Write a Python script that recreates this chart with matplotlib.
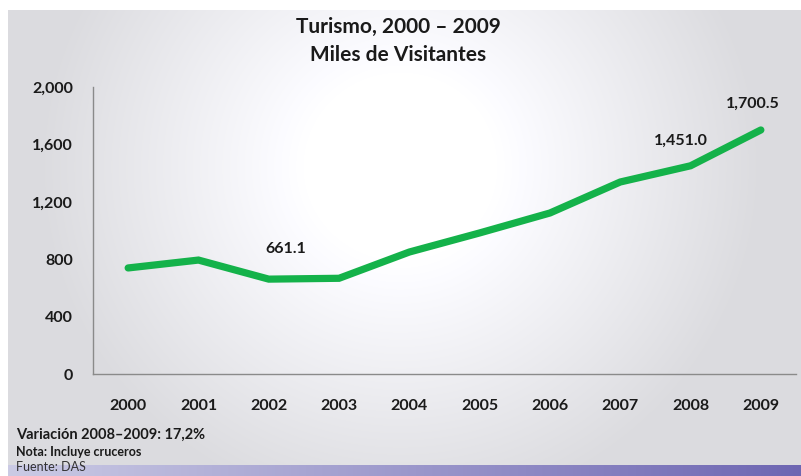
import matplotlib.pyplot as plt
import numpy as np
from matplotlib.ticker import FuncFormatter

# Visitantes (miles), incluye cruceros
years = ['2000', '2001', '2002', '2003', '2004', '2005', '2006', '2007', '2008', '2009']
visitors = [739, 794, 661.1, 667, 850, 983, 1122, 1338, 1451.0, 1700.5]
labeled = {2: '661.1', 8: '1,451.0', 9: '1,700.5'}
label_offsets = {2: (12, 17), 8: (-7, 13), 9: (-6, 14)}

plt.rcParams['font.family'] = ['Lato', 'DejaVu Sans']

W, H = 801, 476
fig = plt.figure(figsize=(W / 100, H / 100), dpi=100)

# slide background: soft grey edges fading to white, purple band at the bottom
bg = fig.add_axes([0, 0, 1, 1])
bg.set_axis_off()
xx, yy = np.meshgrid(np.linspace(0, 1, W), np.linspace(0, 1, H))
d = np.sqrt(((xx - 0.5) / 0.55) ** 2 + ((yy - 0.35) / 0.9) ** 2)
shade = np.clip(1 - 0.14 * np.clip(d - 0.22, 0, None) / 0.6, 0.86, 1)
img = np.ones((H, W, 3))
img[..., 0] = shade
img[..., 1] = shade
img[..., 2] = np.clip(shade + 0.015, 0, 1)
band = yy > 465 / H
t = xx[band]
img[band, 0] = 0.80 - 0.37 * t
img[band, 1] = 0.80 - 0.40 * t
img[band, 2] = 0.90 - 0.20 * t
img[:10, :] = 1.0
img[:, :8] = 1.0
bg.imshow(img, aspect='auto', extent=[0, 1, 0, 1], origin='upper')
bg.set_xlim(0, 1)
bg.set_ylim(0, 1)

ax = fig.add_axes([93 / W, 1 - 374 / H, (796 - 93) / W, (374 - 87) / H])
ax.patch.set_alpha(0)
x = np.arange(len(years))
ax.plot(x, visitors, color='#14b24a', lw=5.2, solid_joinstyle='miter', solid_capstyle='round')

for i, txt in labeled.items():
    ax.annotate(txt, (x[i], visitors[i]), xytext=label_offsets[i], textcoords='offset points',
                ha='center', va='bottom', fontsize=11.5, fontweight='bold', color='#1a1a1a')

ax.set_xlim(-0.5, len(years) - 0.5)
ax.set_ylim(0, 2000)
ax.set_yticks(np.arange(0, 2001, 400))
ax.yaxis.set_major_formatter(FuncFormatter(lambda v, p: f'{int(v):,}'))
ax.set_xticks(x)
ax.set_xticklabels(years)
ax.tick_params(length=0, labelsize=11.5, colors='#1a1a1a')
ax.tick_params(axis='x', pad=18)
ax.tick_params(axis='y', pad=14.5)
for lbl in ax.get_xticklabels() + ax.get_yticklabels():
    lbl.set_fontweight('bold')
for s in ['top', 'right']:
    ax.spines[s].set_visible(False)
for s in ['left', 'bottom']:
    ax.spines[s].set_color('#8a8a8a')
    ax.spines[s].set_linewidth(1)

fig.text(398 / W, 1 - 27 / H, 'Turismo, 2000 – 2009', ha='center', va='center',
         fontsize=15, fontweight='bold', color='#1a1a1a')
fig.text(398 / W, 1 - 55 / H, 'Miles de Visitantes', ha='center', va='center',
         fontsize=15, fontweight='bold', color='#1a1a1a')

fig.text(16 / W, 1 - 435 / H, 'Variación 2008–2009: 17,2%', ha='left', va='center',
         fontsize=10.5, fontweight='bold', color='#1a1a1a')
fig.text(16 / W, 1 - 452 / H, 'Nota: Incluye cruceros', ha='left', va='center',
         fontsize=9, fontweight='bold', color='#1a1a1a')
fig.text(16 / W, 1 - 467 / H, 'Fuente: DAS', ha='left', va='center',
         fontsize=9, color='#333333')

fig.savefig('out.png', dpi=100)
